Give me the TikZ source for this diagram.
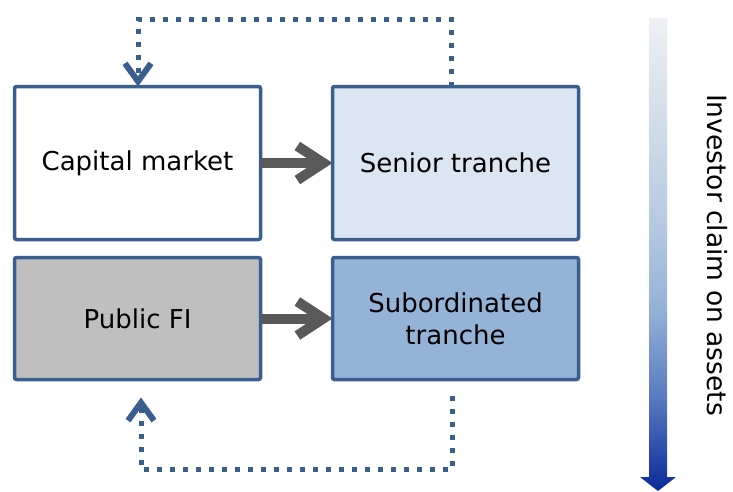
\documentclass[tikz,border=0pt]{standalone}
\usepackage{fontspec}
\setmainfont{DejaVu Sans}
\usetikzlibrary{positioning,arrows.meta}
\definecolor{frame}{HTML}{3A5F8F}
\definecolor{senior}{HTML}{DCE6F2}
\definecolor{junior}{HTML}{95B3D7}
\definecolor{public}{HTML}{BFBFBF}
\definecolor{flowgray}{HTML}{595959}
\definecolor{claimtop}{HTML}{EEF0F3}
\definecolor{claimup}{HTML}{B3C8E0}
\definecolor{claimmid}{HTML}{93B0D6}
\definecolor{claimlow}{HTML}{5A7BC0}
\definecolor{claimend}{HTML}{0A2A9A}
\pgfdeclareverticalshading{claimshade}{100bp}{color(0bp)=(claimend); color(25bp)=(claimend);
  color(35bp)=(claimlow); color(44bp)=(claimmid); color(52.5bp)=(claimup);
  color(75bp)=(claimtop); color(100bp)=(claimtop)}
\begin{document}
\begin{tikzpicture}[x=1pt,y=-1pt,
    font=\fontsize{26}{32}\selectfont,
    box/.style={draw=frame, line width=3.5pt, rounded corners=2pt, outer sep=0pt,
      minimum width=246pt, align=center},
    flow/.style={-{Straight Barb[length=26pt,width=34pt]}, line width=10pt, flowgray},
    back/.style={frame, line width=5pt, dash pattern=on 5pt off 8pt,
      -{Straight Barb[length=18pt,width=26pt,line width=6pt]}}]
    \useasboundingbox (0,0) rectangle (733,491);
      \node[box, minimum height=153pt] (cap) at (137.5,163) {Capital market};
      \node[box, fill=senior, minimum height=153pt, right=72pt of cap] (sen) {Senior tranche};
      \node[box, fill=public, minimum height=122pt, below=18pt of cap] (pub) {Public FI};
      \node[box, fill=junior, minimum height=122pt, right=72pt of pub] (sub) {Subordinated\\tranche};
      \draw[flow] (cap) -- (sen);
      \draw[flow] (pub) -- (sub);
      \draw[back] ([xshift=-4.5pt]sen.north) -- ++(0,-67.5) -| ([xshift=0.5pt]cap.north);
      \draw[back] ([shift={(-3.5,16)}]sub.south) -- ++(0,74) -| ([shift={(3.5,18)}]pub.south);
      \shade[shading=claimshade]
        (649,18) -- (667,18) -- (667,477) -- (676,477) -- (658,491) -- (640,477) -- (649,477) -- cycle;
      \node[rotate=-90, font=\fontsize{26.5}{32}\selectfont] (claim) at (717,255) {Investor claim on assets};
    \end{tikzpicture}
\end{document}
